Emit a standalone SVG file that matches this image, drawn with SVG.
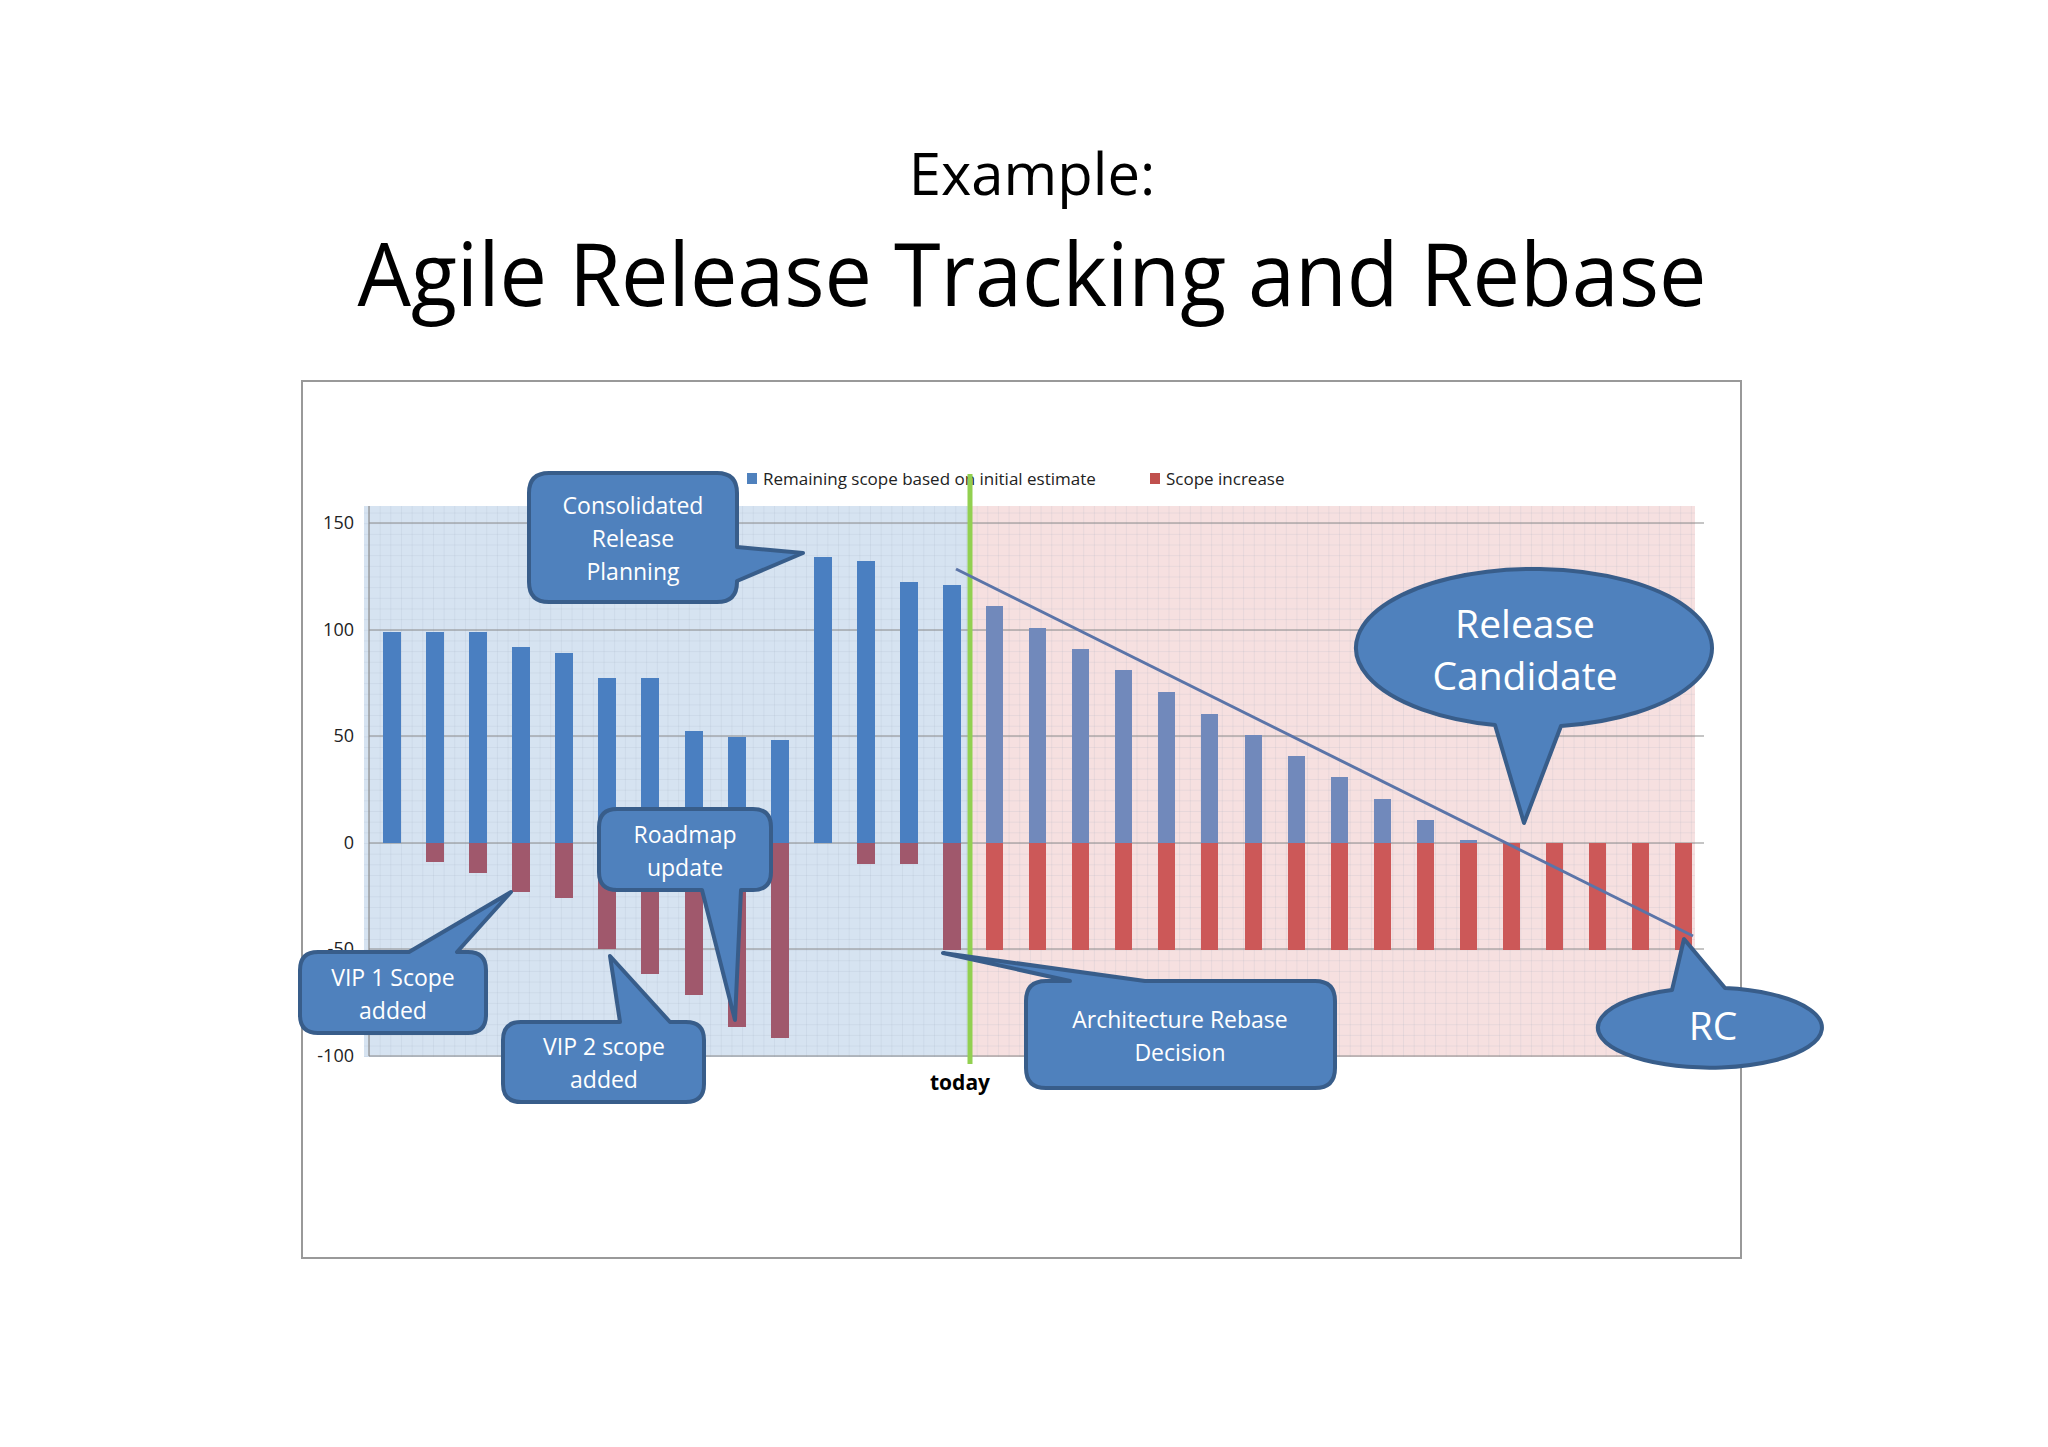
<svg xmlns="http://www.w3.org/2000/svg" width="2048" height="1447" viewBox="0 0 2048 1447">
<defs>
<pattern id="g" width="10.66" height="10.66" patternUnits="userSpaceOnUse" x="369" y="843">
<path d="M0 0H10.66M0 0V10.66" stroke="#9aa8b8" stroke-width="0.6" fill="none" opacity="0.5"/>
</pattern>
<style>
.c{fill:#4f81bd;stroke:#385d8a;stroke-width:4;stroke-linejoin:round}
.t{font-family:"Open Sans","Liberation Sans",sans-serif;fill:#fff;text-anchor:middle}
.ax{font-family:"Open Sans","Liberation Sans",sans-serif;font-size:18px;fill:#222;text-anchor:end}
.lg{font-family:"Open Sans","Liberation Sans",sans-serif;font-size:17px;fill:#222}
.gl{stroke:#8c8c8c;stroke-width:1.2}
.bl{fill:#4a7fc1}.rl{fill:#a0586c}.br{fill:#7189bb}.rr{fill:#cc5858}
</style>
</defs>
<rect width="2048" height="1447" fill="#fff"/>
<g id="title" font-family="'Open Sans','Liberation Sans',sans-serif" fill="#000" text-anchor="middle">
<text x="1032" y="195" font-size="58">Example:</text>
<text x="1032" y="306" font-size="88" textLength="1349" lengthAdjust="spacingAndGlyphs">Agile Release Tracking and Rebase</text>
</g>
<g id="chart">
<rect x="302" y="381" width="1439" height="877" fill="#fff" stroke="#999" stroke-width="2"/>
<rect x="364" y="506" width="606" height="551" fill="#d6e3f1"/>
<rect x="970" y="506" width="725" height="551" fill="#f6e0e0"/>
<rect x="364" y="506" width="1331" height="551" fill="url(#g)"/>
<g class="gl">
<line x1="369" y1="523" x2="1704" y2="523"/><line x1="369" y1="630" x2="1704" y2="630"/>
<line x1="369" y1="736" x2="1704" y2="736"/><line x1="369" y1="843" x2="1704" y2="843"/>
<line x1="369" y1="949" x2="1704" y2="949"/><line x1="369" y1="1056" x2="1704" y2="1056"/>
<line x1="369" y1="506" x2="369" y2="1056"/>
</g>
<g class="ax">
<text x="354" y="529">150</text><text x="354" y="636">100</text><text x="354" y="742">50</text>
<text x="354" y="849">0</text><text x="354" y="955">-50</text><text x="354" y="1062">-100</text>
</g>
<g id="bars">
<rect class="bl" x="383" y="632" width="18" height="211"/>
<rect class="bl" x="426" y="632" width="18" height="211"/><rect class="rl" x="426" y="843" width="18" height="19"/>
<rect class="bl" x="469" y="632" width="18" height="211"/><rect class="rl" x="469" y="843" width="18" height="30"/>
<rect class="bl" x="512" y="647" width="18" height="196"/><rect class="rl" x="512" y="843" width="18" height="49"/>
<rect class="bl" x="555" y="653" width="18" height="190"/><rect class="rl" x="555" y="843" width="18" height="55"/>
<rect class="bl" x="598" y="678" width="18" height="165"/><rect class="rl" x="598" y="843" width="18" height="106"/>
<rect class="bl" x="641" y="678" width="18" height="165"/><rect class="rl" x="641" y="843" width="18" height="131"/>
<rect class="bl" x="685" y="731" width="18" height="112"/><rect class="rl" x="685" y="843" width="18" height="152"/>
<rect class="bl" x="728" y="737" width="18" height="106"/><rect class="rl" x="728" y="843" width="18" height="184"/>
<rect class="bl" x="771" y="740" width="18" height="103"/><rect class="rl" x="771" y="843" width="18" height="195"/>
<rect class="bl" x="814" y="557" width="18" height="286"/>
<rect class="bl" x="857" y="561" width="18" height="282"/><rect class="rl" x="857" y="843" width="18" height="21"/>
<rect class="bl" x="900" y="582" width="18" height="261"/><rect class="rl" x="900" y="843" width="18" height="21"/>
<rect class="bl" x="943" y="585" width="18" height="258"/><rect class="rl" x="943" y="843" width="18" height="107"/>
<rect class="br" x="986" y="606" width="17" height="237"/><rect class="rr" x="986" y="843" width="17" height="107"/>
<rect class="br" x="1029" y="628" width="17" height="215"/><rect class="rr" x="1029" y="843" width="17" height="107"/>
<rect class="br" x="1072" y="649" width="17" height="194"/><rect class="rr" x="1072" y="843" width="17" height="107"/>
<rect class="br" x="1115" y="670" width="17" height="173"/><rect class="rr" x="1115" y="843" width="17" height="107"/>
<rect class="br" x="1158" y="692" width="17" height="151"/><rect class="rr" x="1158" y="843" width="17" height="107"/>
<rect class="br" x="1201" y="714" width="17" height="129"/><rect class="rr" x="1201" y="843" width="17" height="107"/>
<rect class="br" x="1245" y="735" width="17" height="108"/><rect class="rr" x="1245" y="843" width="17" height="107"/>
<rect class="br" x="1288" y="756" width="17" height="87"/><rect class="rr" x="1288" y="843" width="17" height="107"/>
<rect class="br" x="1331" y="777" width="17" height="66"/><rect class="rr" x="1331" y="843" width="17" height="107"/>
<rect class="br" x="1374" y="799" width="17" height="44"/><rect class="rr" x="1374" y="843" width="17" height="107"/>
<rect class="br" x="1417" y="820" width="17" height="23"/><rect class="rr" x="1417" y="843" width="17" height="107"/>
<rect class="br" x="1460" y="840" width="17" height="3"/><rect class="rr" x="1460" y="843" width="17" height="107"/>
<rect class="rr" x="1503" y="843" width="17" height="107"/><rect class="rr" x="1546" y="843" width="17" height="107"/>
<rect class="rr" x="1589" y="843" width="17" height="107"/><rect class="rr" x="1632" y="843" width="17" height="107"/>
<rect class="rr" x="1675" y="843" width="17" height="107"/>
</g>
<rect x="747" y="473" width="10" height="11" fill="#4f81bd"/>
<text class="lg" x="763" y="485">Remaining scope based on initial estimate</text>
<rect x="1150" y="473" width="10" height="11" fill="#c0504d"/>
<text class="lg" x="1166" y="485">Scope increase</text>
</g>
<g id="connectors">
<line x1="970" y1="474" x2="970" y2="1064" stroke="#92d050" stroke-width="5"/>
<line x1="956" y1="569" x2="1693" y2="936" stroke="#5b74a8" stroke-width="3"/>
</g>
<text x="960" y="1090" font-family="'Open Sans','Liberation Sans',sans-serif" font-size="21" font-weight="bold" text-anchor="middle">today</text>
<g id="crp">
<path class="c" d="M549 473H717Q737 473 737 493V547L803 553L737 581V582Q737 602 717 602H549Q529 602 529 582V493Q529 473 549 473Z"/>
<text class="t" font-size="23"><tspan x="633" y="514">Consolidated</tspan><tspan x="633" y="547">Release</tspan><tspan x="633" y="580">Planning</tspan></text>
</g>
<g id="roadmap">
<path class="c" d="M617 809H753Q771 809 771 827V872Q771 890 753 890H741L735 1020L702 890H617Q599 890 599 872V827Q599 809 617 809Z"/>
<text class="t" font-size="23"><tspan x="685" y="843">Roadmap</tspan><tspan x="685" y="876">update</tspan></text>
</g>
<g id="vip1">
<path class="c" d="M318 952H409L511 892L457 952H468Q486 952 486 970V1015Q486 1033 468 1033H318Q300 1033 300 1015V970Q300 952 318 952Z"/>
<text class="t" font-size="23"><tspan x="393" y="986">VIP 1 Scope</tspan><tspan x="393" y="1019">added</tspan></text>
</g>
<g id="vip2">
<path class="c" d="M521 1022H620L610 956L670 1022H686Q704 1022 704 1040V1084Q704 1102 686 1102H521Q503 1102 503 1084V1040Q503 1022 521 1022Z"/>
<text class="t" font-size="23"><tspan x="604" y="1055">VIP 2 scope</tspan><tspan x="604" y="1088">added</tspan></text>
</g>
<g id="arch">
<path class="c" d="M1046 981H1070L943 953L1145 981H1315Q1335 981 1335 1001V1068Q1335 1088 1315 1088H1046Q1026 1088 1026 1068V1001Q1026 981 1046 981Z"/>
<text class="t" font-size="23"><tspan x="1180" y="1028">Architecture Rebase</tspan><tspan x="1180" y="1061">Decision</tspan></text>
</g>
<g id="rcand">
<path class="c" d="M1495 725A178 79 0 1 1 1561 726L1524 823Z"/>
<text class="t" font-size="39"><tspan x="1525" y="638">Release</tspan><tspan x="1525" y="690">Candidate</tspan></text>
</g>
<g id="rc">
<path class="c" d="M1672 990A112 40 0 1 0 1725 988L1684 939Z"/>
<text class="t" font-size="39" x="1713" y="1040">RC</text>
</g>
</svg>
